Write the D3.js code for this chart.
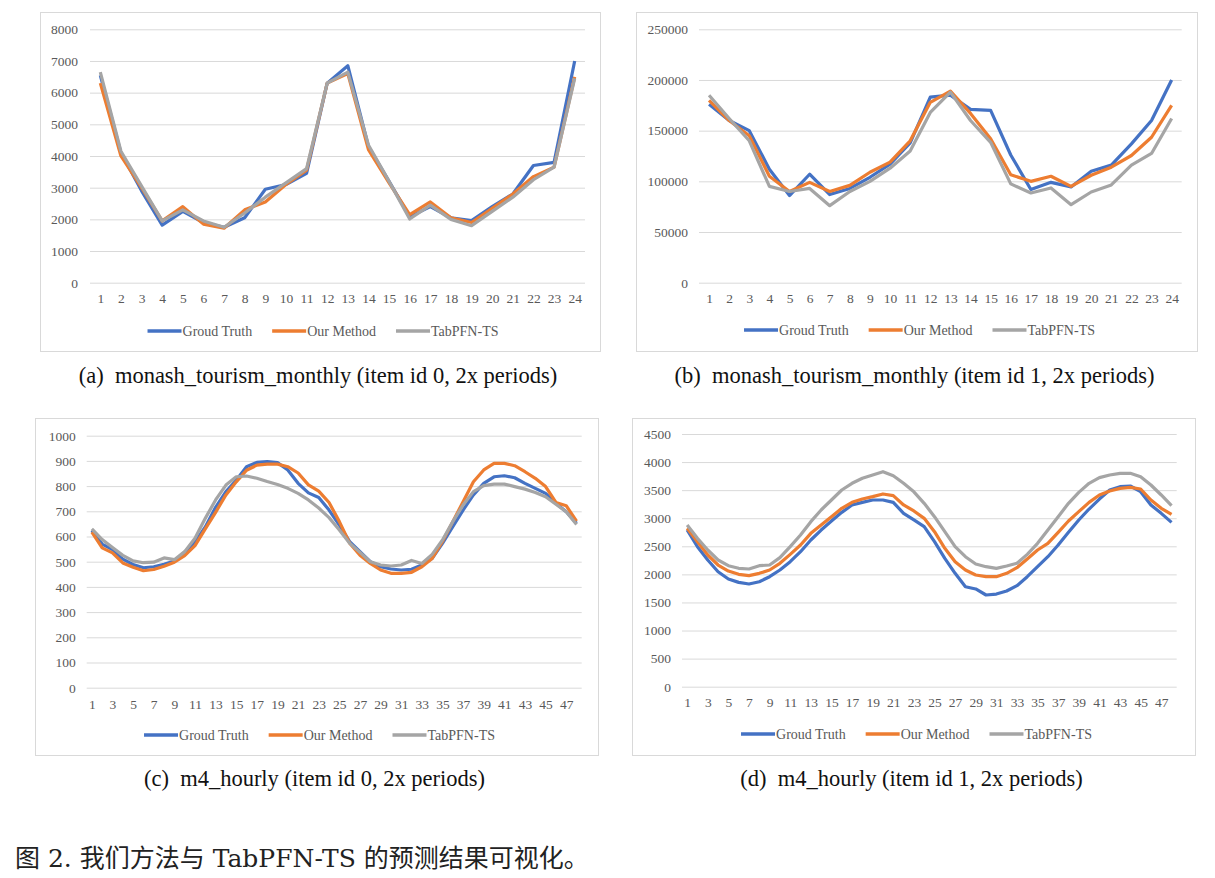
<!DOCTYPE html>
<html>
<head>
<meta charset="utf-8">
<script src="https://cdn.jsdelivr.net/npm/d3@7"></script>
<style>
  body { margin: 0; background: #fff; }
  svg { display: block; }
  .legend-label { font-family: "Liberation Serif", "Times New Roman", serif; font-size: 14px; fill: #595959; }
  .sub-caption { font-family: "Liberation Serif", "Times New Roman", serif; font-size: 22.5px; fill: #111; }
  .fig-caption { font-family: "DejaVu Serif", "Noto Sans CJK SC", serif; font-size: 25px; fill: #222; }
  .fig-caption .cjk { font-family: "Noto Sans CJK SC", sans-serif; }
</style>
</head>
<body>
<div id="chart"></div>
<script>
// series names / colours
const seriesNames = ['Groud Truth', 'Our Method', 'TabPFN-TS'];
const seriesColors = ['#4472c4', '#ed7d31', '#a5a5a5'];

// categories
const monthlyCats = d3.range(1, 25);
const hourlyCats = d3.range(1, 49);

// (a) monash_tourism_monthly, item 0
const tourism0Truth = [6550, 4100, 2900, 1820, 2250, 1900, 1750, 2050, 2950, 3100, 3450, 6300, 6850, 4300, 3200, 2080, 2400, 2050, 1960, 2400, 2800, 3700, 3800, 7000];
const tourism0Ours = [6300, 4000, 3000, 1950, 2400, 1850, 1720, 2300, 2550, 3100, 3550, 6300, 6600, 4200, 3150, 2150, 2550, 2050, 1900, 2350, 2800, 3350, 3650, 6500];
const tourism0Tab = [6650, 4150, 3050, 1950, 2300, 1950, 1750, 2200, 2700, 3150, 3600, 6300, 6650, 4350, 3200, 2010, 2450, 2000, 1800, 2250, 2700, 3250, 3650, 6450];

// (b) monash_tourism_monthly, item 1
const tourism1Truth = [176000, 160000, 150000, 112000, 86000, 107000, 87000, 93000, 104000, 117000, 138000, 183000, 185000, 171000, 170000, 126000, 92000, 99000, 94500, 110000, 116000, 137000, 160000, 200000];
const tourism1Ours = [180000, 160000, 145000, 105000, 90000, 99000, 90000, 96000, 109000, 119000, 140000, 178000, 189000, 167000, 142000, 106500, 100000, 105000, 95000, 106000, 114000, 125500, 143500, 175000];
const tourism1Tab = [185000, 162000, 140000, 95000, 90000, 93000, 76000, 90000, 100000, 113000, 130000, 168000, 188000, 160000, 138500, 97500, 88500, 93500, 77000, 89500, 96500, 116000, 127500, 162000];

// (c) m4_hourly, item 0
const hourly0Truth = [624, 570, 548, 510, 489, 476, 480, 490, 503, 538, 578, 638, 716, 778, 823, 877, 894, 897, 893, 864, 811, 773, 755, 705,
  645, 580, 540, 500, 480, 471, 467, 470, 487, 513, 573, 639, 705, 765, 811, 837, 841, 833, 811, 791, 771, 732, 698, 652];
const hourly0Ours = [617, 555, 535, 495, 478, 464, 469, 482, 498, 524, 564, 630, 696, 765, 817, 863, 883, 887, 887, 877, 852, 805, 780, 735,
  659, 573, 526, 493, 467, 454, 454, 458, 480, 513, 580, 659, 738, 817, 864, 890, 890, 881, 857, 831, 798, 735, 722, 661];
const hourly0Tab = [630, 588, 556, 525, 503, 496, 498, 515, 508, 540, 593, 672, 745, 804, 837, 840, 831, 818, 806, 791, 771, 745, 713, 675,
  626, 573, 537, 500, 487, 483, 487, 505, 493, 529, 586, 659, 725, 778, 802, 808, 808, 798, 788, 775, 758, 728, 698, 648];

// (d) m4_hourly, item 1
const hourly1Truth = [2790, 2494, 2256, 2048, 1918, 1858, 1829, 1870, 1959, 2078, 2226, 2404, 2612, 2790, 2951, 3105, 3236, 3283, 3325, 3325, 3283, 3087, 2970, 2850,
  2583, 2286, 2019, 1781, 1740, 1633, 1650, 1704, 1799, 1959, 2137, 2315, 2523, 2749, 2969, 3164, 3342, 3503, 3562, 3574, 3473, 3236, 3087, 2927];
const hourly1Ours = [2820, 2583, 2345, 2167, 2060, 2001, 1977, 2019, 2078, 2197, 2357, 2523, 2731, 2879, 3028, 3176, 3283, 3342, 3384, 3432, 3402, 3236, 3130, 2998,
  2761, 2464, 2226, 2078, 1989, 1959, 1959, 2019, 2120, 2274, 2434, 2553, 2749, 2951, 3117, 3283, 3414, 3485, 3532, 3550, 3521, 3325, 3176, 3069];
const hourly1Tab = [2880, 2642, 2434, 2256, 2155, 2108, 2096, 2155, 2167, 2298, 2494, 2701, 2939, 3147, 3325, 3503, 3622, 3711, 3770, 3829, 3758, 3622, 3470, 3265,
  3028, 2761, 2494, 2315, 2185, 2137, 2108, 2149, 2197, 2357, 2553, 2790, 3028, 3265, 3461, 3622, 3723, 3770, 3800, 3800, 3740, 3592, 3414, 3224];

// y tick values
const ticksA = d3.range(0, 8001, 1000);
const ticksB = d3.range(0, 250001, 50000);
const ticksC = d3.range(0, 1001, 100);
const ticksD = d3.range(0, 4501, 500);

const captionA = '(a)  monash_tourism_monthly (item id 0, 2x periods)';
const captionB = '(b)  monash_tourism_monthly (item id 1, 2x periods)';
const captionC = '(c)  m4_hourly (item id 0, 2x periods)';
const captionD = '(d)  m4_hourly (item id 1, 2x periods)';
// figure caption split into CJK / latin runs
const figCaptionParts = [
  ['图', true], [' 2. ', false], ['我们方法与', true], [' TabPFN-TS ', false], ['的预测结果可视化。', true]
];

const svg = d3.select('#chart').append('svg')
  .attr('width', 1215)
  .attr('height', 878);

svg.append('rect').attr('width', 1215).attr('height', 878).attr('fill', '#fff');

function styleTicks(axisG) {
  axisG.select('.domain').remove();
  axisG.attr('font-family', '"Liberation Serif", "Times New Roman", serif')
    .attr('font-size', 13.5);
  axisG.selectAll('.tick text').attr('fill', '#595959');
}

function drawPanel(p) {
  const g = svg.append('g');

  g.append('rect')
    .attr('x', p.box[0] + 0.5).attr('y', p.box[1] + 0.5)
    .attr('width', p.box[2] - p.box[0]).attr('height', p.box[3] - p.box[1])
    .attr('fill', '#fff').attr('stroke', '#d9d9d9').attr('stroke-width', 1);

  const x = d3.scalePoint()
    .domain(p.cats)
    .range([p.left, p.right])
    .padding(0.5);

  const y = d3.scaleLinear()
    .domain([0, d3.max(p.yTicks)])
    .range([p.bottom, p.top]);

  // grid lines + y labels
  const yAxis = g.append('g')
    .attr('transform', `translate(${p.left},0)`)
    .call(d3.axisLeft(y).tickValues(p.yTicks).tickSize(0).tickPadding(p.yPad).tickFormat(d3.format('d')));
  styleTicks(yAxis);
  yAxis.selectAll('.tick line').clone()
    .attr('x2', p.right - p.left)
    .attr('stroke', '#d9d9d9')
    .attr('stroke-width', 1);

  // x labels
  const xAxis = g.append('g')
    .attr('transform', `translate(0,${p.bottom})`)
    .call(d3.axisBottom(x).tickValues(p.xTicks).tickSize(0).tickPadding(p.xPad));
  styleTicks(xAxis);

  const line = d3.line()
    .x((d, i) => x(p.cats[i]))
    .y(d => y(d));

  p.series.forEach((s, i) => {
    g.append('path')
      .datum(s)
      .attr('fill', 'none')
      .attr('stroke', seriesColors[i])
      .attr('stroke-width', 3.2)
      .attr('stroke-linejoin', 'round')
      .attr('d', line);
  });

  // legend
  const leg = g.append('g');
  let lx = 0;
  seriesNames.forEach((name, i) => {
    const item = leg.append('g').attr('transform', `translate(${lx},0)`);
    item.append('line')
      .attr('x1', 0).attr('x2', 34).attr('y1', 0).attr('y2', 0)
      .attr('stroke', seriesColors[i]).attr('stroke-width', 3.5);
    const t = item.append('text')
      .attr('class', 'legend-label')
      .attr('x', 35).attr('dy', '0.33em')
      .text(name);
    lx += 35 + t.node().getComputedTextLength() + 20;
  });
  const legW = lx - 20;
  const cx = (p.box[0] + p.box[2]) / 2 + 3;
  leg.attr('transform', `translate(${cx - legW / 2},${p.legendY})`);

  svg.append('text')
    .attr('class', 'sub-caption')
    .attr('x', (p.box[0] + p.box[2]) / 2 - 2)
    .attr('y', p.captionY)
    .attr('text-anchor', 'middle')
    .attr('xml:space', 'preserve')
    .text(p.caption);
}

drawPanel({
  box: [40, 12, 600, 351], left: 90, right: 585, top: 29.3, bottom: 282.7,
  cats: monthlyCats, xTicks: monthlyCats, yTicks: ticksA, yPad: 12, xPad: 11,
  series: [tourism0Truth, tourism0Ours, tourism0Tab],
  legendY: 331, caption: captionA, captionY: 383
});
drawPanel({
  box: [636, 12, 1197, 351], left: 699, right: 1181.7, top: 29.3, bottom: 282.7,
  cats: monthlyCats, xTicks: monthlyCats, yTicks: ticksB, yPad: 11, xPad: 11,
  series: [tourism1Truth, tourism1Ours, tourism1Tab],
  legendY: 330, caption: captionB, captionY: 383
});
drawPanel({
  box: [35, 418, 598, 755], left: 86.7, right: 581.7, top: 435.7, bottom: 687.7,
  cats: hourlyCats, xTicks: hourlyCats.filter(d => d % 2 === 1), yTicks: ticksC, yPad: 11, xPad: 12,
  series: [hourly0Truth, hourly0Ours, hourly0Tab],
  legendY: 735, caption: captionC, captionY: 786
});
drawPanel({
  box: [632, 418, 1195, 755], left: 682, right: 1176.7, top: 434, bottom: 686.7,
  cats: hourlyCats, xTicks: hourlyCats.filter(d => d % 2 === 1), yTicks: ticksD, yPad: 11, xPad: 11,
  series: [hourly1Truth, hourly1Ours, hourly1Tab],
  legendY: 734, caption: captionD, captionY: 786
});

const cap = svg.append('text')
  .attr('class', 'fig-caption')
  .attr('x', 15)
  .attr('y', 867)
  .attr('xml:space', 'preserve');
figCaptionParts.forEach(([txt, cjk]) => {
  cap.append('tspan').attr('class', cjk ? 'cjk' : null).text(txt);
});
</script>
</body>
</html>
